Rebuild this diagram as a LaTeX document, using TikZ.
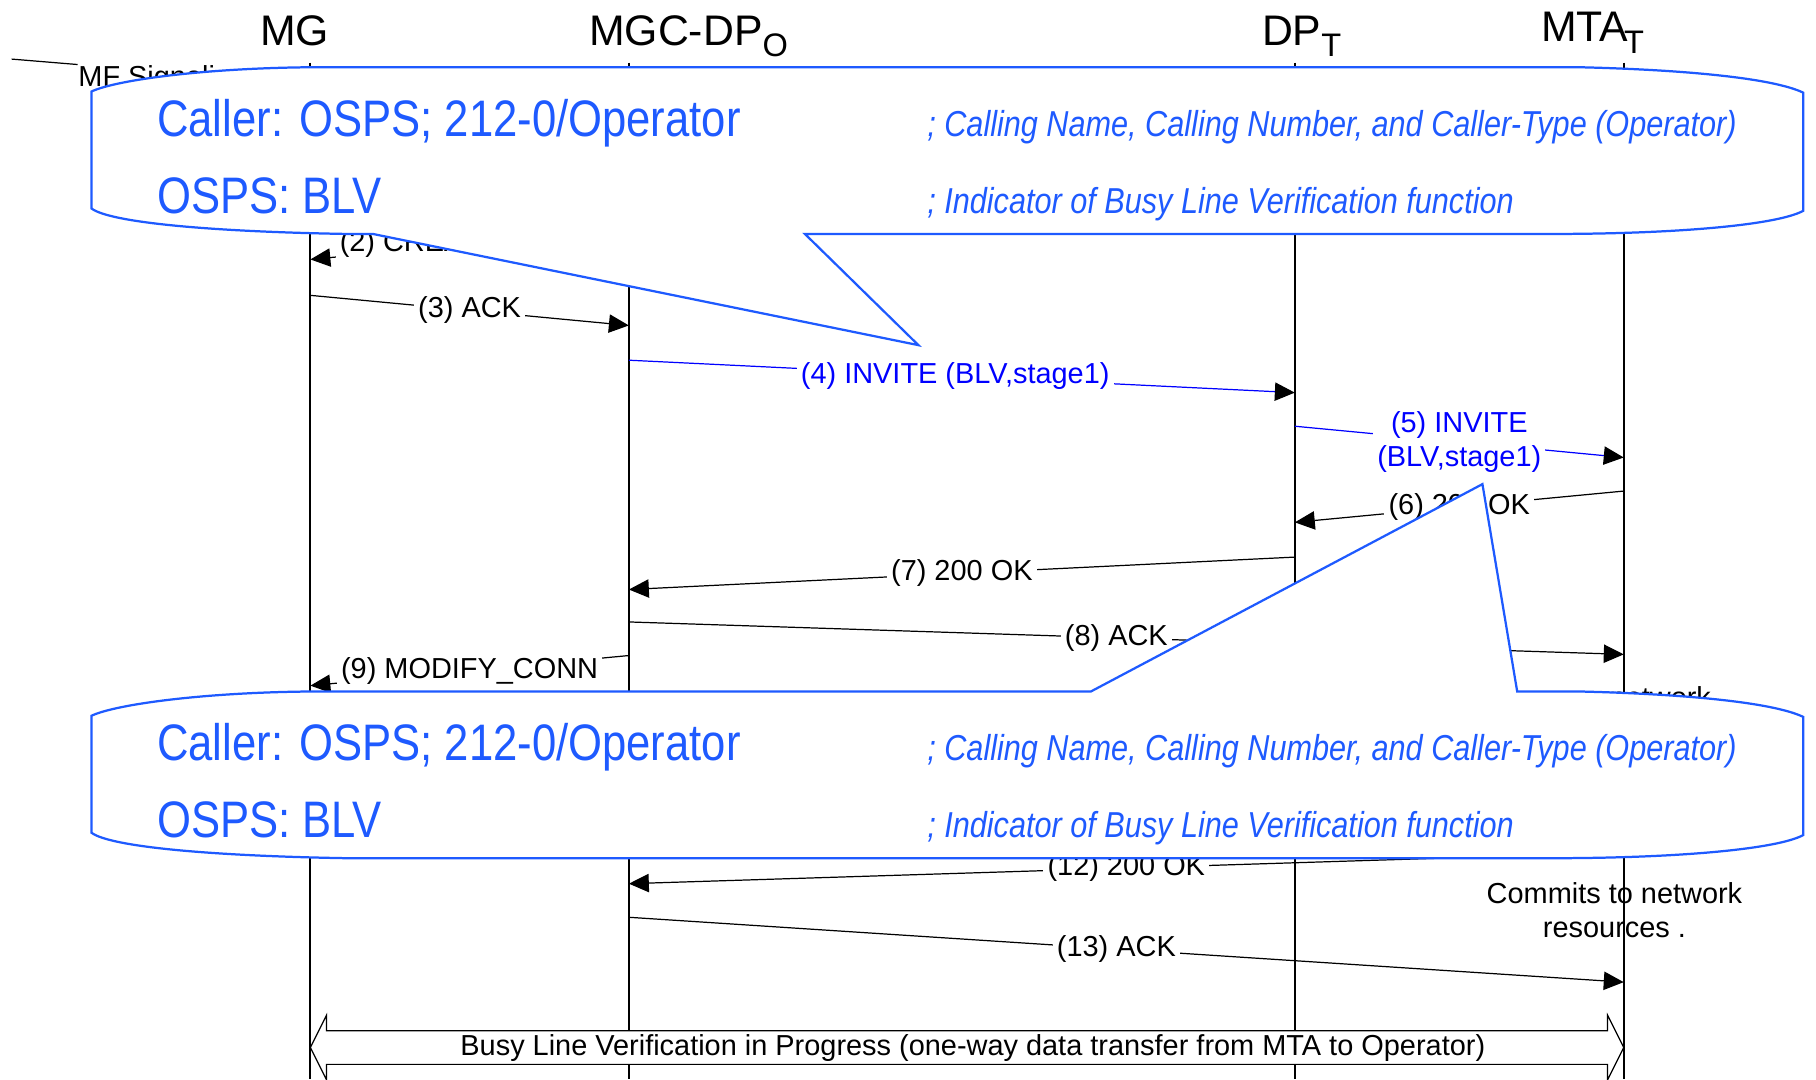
\documentclass[tikz,border=0pt]{standalone}
\usepackage{fontspec}
\setmainfont{Liberation Sans}
\newfontfamily\notefont[FakeStretch=0.85]{Liberation Sans}
\usetikzlibrary{arrows.meta,calc}
\definecolor{noteblue}{RGB}{30,90,255}
\definecolor{msgblue}{RGB}{0,0,255}
\newcommand{\lsub}[1]{\raisebox{-2.8pt}{\fontsize{8}{8}\selectfont #1}}

\tikzset{
  lifeline/.style={line width=0.5pt},
  msgline/.style={line width=0.3pt,-{Triangle[length=4.9pt,width=4.5pt,color=black]}},
  msglabel/.style={fill=white,inner sep=1pt,font=\fontsize{7.1}{8.4}\selectfont,align=center},
  hdr/.style={font=\fontsize{10.5}{12}\selectfont,anchor=base west,inner sep=0pt},
  note/.style={draw=noteblue,fill=white,line width=0.55pt,line join=miter},
  notebig/.style={text=noteblue,font=\notefont\fontsize{12.6}{14}\selectfont,anchor=base west,inner sep=0pt},
  notesmall/.style={text=noteblue,font=\notefont\itshape\fontsize{8.85}{10}\selectfont,anchor=base west,inner sep=0pt}
}

\begin{document}
\begin{tikzpicture}[x=0.01cm,y=-0.01cm]
  \useasboundingbox (0,0) rectangle (1568,932);
  % Headers
  \node[hdr] (mg) at (224,39) {MG};
  \node[hdr] (mgc) at (508,39) {MGC-DP\lsub{O}};
  \node[hdr] (dpt) at (1089,39) {DP\lsub{T}};
  \node[hdr] (mta) at (1330,36) {MTA\kern-1pt\lsub{T}};
  % Lifelines
  \foreach \n/\x in {mgl/268, mgcl/543, dptl/1118, mtal/1402}{
    \coordinate (\n) at (\x,54);
    \draw[lifeline] (\n) -- (\n |- 0,932);
  }
  % MF signaling (mostly hidden)
  \coordinate (mfsrc) at (10,51);
  \node[msglabel,fill=none,anchor=base west,inner sep=0pt] (mf) at (67,74.5) {MF Signaling};
  \draw[line width=0.3pt] (mfsrc) -- (mf.north west);
  % Messages
  \foreach \a/\ya/\b/\yb/\p/\lab/\col in {
    mgcl/198/mgl/224/0.5/{(2) CREATE\_CONN}/black,
    mgl/255/mgcl/281/0.5/{(3) ACK}/black,
    mgcl/311/dptl/339/0.49/{(4) INVITE (BLV,stage1)}/msgblue,
    dptl/368/mtal/395/0.5/{(5) INVITE\\(BLV,stage1)}/msgblue,
    mtal/424/dptl/451/0.5/{(6) 200 OK}/black,
    dptl/481/mgcl/509/0.5/{(7) 200 OK}/black,
    mgcl/537/mtal/565/0.49/{(8) ACK}/black,
    mgcl/566/mgl/592/0.5/{(9) MODIFY\_CONN}/black,
    mtal/736/mgcl/763/0.5/{(12) 200 OK}/black,
    mgcl/792/mtal/848/0.49/{(13) ACK}/black}{
    \draw[msgline,\col] (\a |- 0,\ya) -- node[msglabel,text=\col,pos=\p]{\lab} (\b |- 0,\yb);
  }
  \node[msglabel,fill=none,anchor=base east,inner sep=0pt] (netw) at (1478,611) {network};
  \node[msglabel,fill=none] (commit) at (1394,786) {Commits to network\\resources .};
  % Busy line verification band
  \draw[line width=0.3pt,fill=white] (mgl |- 0,904.5) -- (282,876.5) -- (282,890) -- (1388,890)
    -- (1388,876.5) -- (mtal |- 0,904.5) -- (1388,932.5) -- (1388,919) -- (282,919) -- (282,932.5) -- cycle;
  \node[msglabel,fill=none] (blv) at (840,904.5) {Busy Line Verification in Progress (one-way data transfer from MTA to Operator)};
  % Callouts
  \draw[note] (280,58) -- (1362,58) .. controls (1450,60) and (1530,67) .. (1557,80) -- (1557,182)
    .. controls (1535,194) and (1450,202) .. (1339,202) -- (695,202) -- (793,298) -- (322,202) -- (300,202)
    .. controls (180,200) and (95,192) .. (79,180) -- (79,79) .. controls (100,69) and (180,58) .. (280,58) -- cycle;
  \draw[note] (280,597) -- (942,597) -- (1280,418) -- (1310,597) -- (1362,597)
    .. controls (1450,599) and (1530,606) .. (1557,619) -- (1557,721)
    .. controls (1535,733) and (1450,741) .. (1339,741) -- (300,741)
    .. controls (180,739) and (95,731) .. (79,719) -- (79,618) .. controls (100,608) and (180,597) .. (280,597) -- cycle;
  \foreach \k/\yy in {1/0, 2/539}{
    \begin{scope}[shift={(0,\yy)}]
      \node[notebig] (caller\k) at (135,118) {Caller: OSPS; 212-0/Operator};
      \node[notebig] (osps\k) at (135,184) {OSPS: BLV};
      \node[notesmall] (cmtA\k) at (800,118) {; Calling Name, Calling Number, and Caller-Type (Operator)};
      \node[notesmall] (cmtB\k) at (800,184) {; Indicator of Busy Line Verification function};
    \end{scope}
  }
\end{tikzpicture}
\end{document}
